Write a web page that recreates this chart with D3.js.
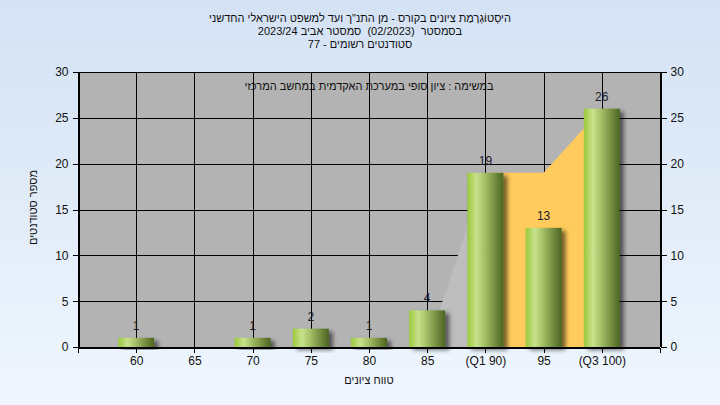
<!DOCTYPE html>
<html><head><meta charset="utf-8">
<script src="https://cdn.jsdelivr.net/npm/d3@7"></script>
<style>body{margin:0;padding:0;overflow:hidden}svg{display:block}text{font-family:"Liberation Sans",Arial,sans-serif;white-space:pre}</style>
</head><body>
<script>
// ---- data ----
const categories = [60, 65, 70, 75, 80, 85, 90, 95, 100];
const tickLabels = ["60", "65", "70", "75", "80", "85", "(Q1 90)", "95", "(Q3 100)"];
const counts = [1, 0, 1, 2, 1, 4, 19, 13, 26];
const wedgeX = [85, 90];
const wedgeY = [0, 19];
const iqrX = [90, 95, 100];
const iqrY = [19, 19, 26];
const yTicks = [0, 5, 10, 15, 20, 25, 30];
const xGrid = [55, 60, 65, 70, 75, 80, 85, 90, 95, 100, 105];
const titleLines = ["היסְטוֹגְרָמַת ציונים בקורס - מן התנ\"ך ועד למשפט הישראלי החדשני", "בסמסטר  (02/2023)  סמסטר אביב 2023/24", "סטודנטים רשומים - 77"];
const noteText = "במשימה : ציון סופי במערכת האקדמית במחשב המרכזי";
const xTitle = "טווח ציונים";
const yTitle = "מספר סטודנטים";

const W = 720, H = 405;
const L = 78, R = 660, T = 72, B = 347;
const HF = 11; // hebrew text size
const svg = d3.select("body").append("svg").attr("width", W).attr("height", H);
const defs = svg.append("defs");
const bg = defs.append("linearGradient").attr("id", "bg").attr("x1", 0).attr("y1", 0).attr("x2", 0).attr("y2", 1);
bg.append("stop").attr("offset", "0%").attr("stop-color", "#d4e2f4");
bg.append("stop").attr("offset", "100%").attr("stop-color", "#eff6fe");
const bar = defs.append("linearGradient").attr("id", "bar").attr("x1", 0).attr("y1", 0).attr("x2", 1).attr("y2", 0);
[["0%", "#9bc93a"], ["25%", "#c8e18e"], ["45%", "#a9c56a"], ["75%", "#778f42"], ["100%", "#4b6622"]].forEach(s => bar.append("stop").attr("offset", s[0]).attr("stop-color", s[1]));
const f = defs.append("filter").attr("id", "sh").attr("x", "-30%").attr("y", "-30%").attr("width", "160%").attr("height", "160%");
f.append("feDropShadow").attr("dx", 4).attr("dy", 3).attr("stdDeviation", 2).attr("flood-color", "#000").attr("flood-opacity", 0.55);

svg.append("rect").attr("width", W).attr("height", H).attr("fill", "url(#bg)");

const x = d3.scaleLinear().domain([55, 105]).range([L, R]);
const y = d3.scaleLinear().domain([0, 30]).range([B, T]);

svg.append("rect").attr("x", L).attr("y", T).attr("width", R - L).attr("height", B - T).attr("fill", "#b3b3b3");

// grid
const g = svg.append("g").attr("stroke", "#000").attr("stroke-width", 1).attr("shape-rendering", "crispEdges");
yTicks.forEach(v => g.append("line").attr("x1", L).attr("x2", R).attr("y1", Math.round(y(v)) + 0.5).attr("y2", Math.round(y(v)) + 0.5));
xGrid.forEach(v => g.append("line").attr("y1", T).attr("y2", B).attr("x1", Math.round(x(v)) + 0.5).attr("x2", Math.round(x(v)) + 0.5));

// areas
const area = d3.area().x(d => x(d[0])).y0(y(0)).y1(d => y(d[1]));
svg.append("path").datum(wedgeX.map((v, i) => [v, wedgeY[i]])).attr("d", area).attr("fill", "#bdbdbd");
svg.append("path").datum(iqrX.map((v, i) => [v, iqrY[i]])).attr("d", area).attr("fill", "#ffcb5c");

// note
svg.append("text").attr("x", (L + R) / 2).attr("y", 90).attr("text-anchor", "middle").attr("direction", "rtl")
  .attr("font-size", HF).attr("fill", "#111").text(noteText);

// bars
const bw = 36;
const data = categories.map((c, i) => ({c, v: counts[i]})).filter(d => d.v > 0);
svg.append("g").selectAll("rect").data(data).join("rect")
  .attr("x", d => x(d.c) - bw / 2).attr("width", bw)
  .attr("y", d => y(d.v)).attr("height", d => y(0) - y(d.v))
  .attr("fill", "url(#bar)").attr("filter", "url(#sh)");
svg.append("g").selectAll("text").data(data).join("text")
  .attr("x", d => x(d.c)).attr("y", d => y(d.v) - 8).attr("text-anchor", "middle")
  .attr("font-size", 12).attr("fill", "#1b1b2a").text(d => d.v);

// axes
const yl = d3.axisLeft(y).tickValues(yTicks).tickSize(6).tickPadding(4);
const yr = d3.axisRight(y).tickValues(yTicks).tickSize(6).tickPadding(4);
const xb = d3.axisBottom(x).tickValues(xGrid).tickSize(5).tickPadding(4)
  .tickFormat(v => { const i = categories.indexOf(v); return i >= 0 ? tickLabels[i] : ""; });
function style(sel) {
  sel.selectAll("path,line").attr("stroke", "#000").attr("shape-rendering", "crispEdges");
  sel.selectAll("text").attr("font-size", 12).attr("fill", "#111").attr("font-family", "\"Liberation Sans\",Arial,sans-serif");
}
svg.append("g").attr("transform", `translate(${L + 0.5},0)`).call(yl).call(style);
svg.append("g").attr("transform", `translate(${R + 0.5},0)`).call(yr).call(style);
svg.append("g").attr("transform", `translate(0,${B + 0.5})`).call(xb).call(style);

// titles
titleLines.forEach((t, i) => svg.append("text").attr("x", 360).attr("y", 22 + i * 13).attr("text-anchor", "middle")
  .attr("direction", "rtl").attr("font-size", HF).attr("fill", "#111").text(t));
svg.append("text").attr("x", (L + R) / 2).attr("y", 384).attr("text-anchor", "middle").attr("direction", "rtl")
  .attr("font-size", HF).attr("fill", "#111").text(xTitle);
svg.append("text").attr("transform", `translate(37,${(T + B) / 2 - 2}) rotate(-90)`).attr("text-anchor", "middle").attr("direction", "rtl")
  .attr("font-size", HF).attr("fill", "#111").text(yTitle);
</script>
</body></html>
